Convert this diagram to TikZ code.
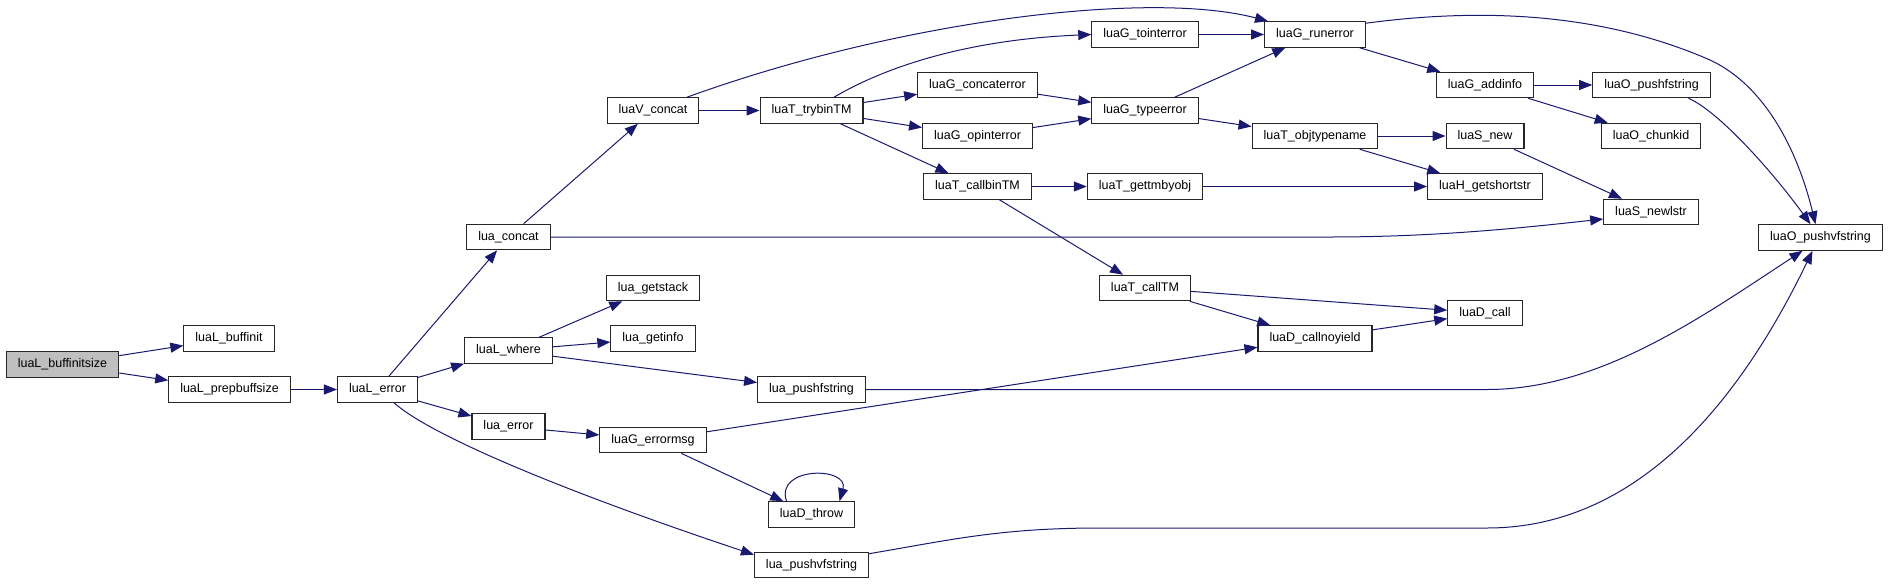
\documentclass[tikz,border=0pt]{standalone}
\usepackage{fontspec}
\setmainfont{Liberation Sans}
\usetikzlibrary{arrows.meta}
\definecolor{edgeblue}{HTML}{191970}
\definecolor{hilite}{HTML}{BFBFBF}

\begin{document}
\begin{tikzpicture}[x=1pt, y=-1pt,
  fnbox/.style={draw=black!85, line width=1.1pt, fill=white, rectangle,
    inner xsep=11.5pt, inner ysep=0pt, minimum height=25.5pt,
    text height=9.3pt, text depth=2.6pt, font=\fontsize{12.5}{14}\selectfont},
  call/.style={draw=edgeblue, line width=1pt, -{Triangle[length=13pt,width=10pt]}}]
  \useasboundingbox (0,0) rectangle (1888,584);

  % functions, placed at the pixel positions of the call graph
  \node[fnbox, fill=hilite] (BuffInitSize) at (62.5,364.5) {luaL\_buffinitsize};
  \node[fnbox] (BuffInit) at (229,338.5) {luaL\_buffinit};
  \node[fnbox] (PrepBuffSize) at (229.5,389.5) {luaL\_prepbuffsize};
  \node[fnbox] (LError) at (377.5,389.5) {luaL\_error};
  \node[fnbox] (LuaConcat) at (508.5,237) {lua\_concat};
  \node[fnbox] (LWhere) at (508.5,350.5) {luaL\_where};
  \node[fnbox] (LuaError) at (508.5,426.5) {lua\_error};
  \node[fnbox] (VConcat) at (653,110.5) {luaV\_concat};
  \node[fnbox] (GetStack) at (653,288) {lua\_getstack};
  \node[fnbox] (GetInfo) at (653,338.5) {lua\_getinfo};
  \node[fnbox] (ErrorMsg) at (653,440) {luaG\_errormsg};
  \node[fnbox] (TryBinTM) at (811.5,110.5) {luaT\_trybinTM};
  \node[fnbox] (PushFString) at (811.5,389.5) {lua\_pushfstring};
  \node[fnbox] (Throw) at (811.5,514.5) {luaD\_throw};
  \node[fnbox] (PushVFString) at (811.5,565) {lua\_pushvfstring};
  \node[fnbox] (ConcatError) at (977.5,85) {luaG\_concaterror};
  \node[fnbox] (OpIntError) at (977.5,136) {luaG\_opinterror};
  \node[fnbox] (CallBinTM) at (977.5,186.5) {luaT\_callbinTM};
  \node[fnbox] (ToIntError) at (1145,34.5) {luaG\_tointerror};
  \node[fnbox] (TypeError) at (1145,110.5) {luaG\_typeerror};
  \node[fnbox] (GetTMByObj) at (1145,186.5) {luaT\_gettmbyobj};
  \node[fnbox] (CallTM) at (1145,288) {luaT\_callTM};
  \node[fnbox] (RunError) at (1315,34.5) {luaG\_runerror};
  \node[fnbox] (ObjTypeName) at (1315,136) {luaT\_objtypename};
  \node[fnbox] (CallNoYield) at (1315,338.5) {luaD\_callnoyield};
  \node[fnbox] (AddInfo) at (1485,85) {luaG\_addinfo};
  \node[fnbox] (SNew) at (1485,136) {luaS\_new};
  \node[fnbox] (GetShortStr) at (1485,186.5) {luaH\_getshortstr};
  \node[fnbox] (DCall) at (1485,313) {luaD\_call};
  \node[fnbox] (OPushFString) at (1651.5,85) {luaO\_pushfstring};
  \node[fnbox] (ChunkId) at (1651,136) {luaO\_chunkid};
  \node[fnbox] (NewLStr) at (1651,212) {luaS\_newlstr};
  \node[fnbox] (OPushVFString) at (1820.5,237.5) {luaO\_pushvfstring};

  % straight calls
  \draw[call] (BuffInitSize) -- (BuffInit);
  \draw[call] (BuffInitSize) -- (PrepBuffSize);
  \draw[call] (PrepBuffSize) -- (LError);
  \draw[call] (LError) -- (LuaConcat);
  \draw[call] (LError) -- (LWhere);
  \draw[call] (LError) -- (LuaError);
  \draw[call] (LuaConcat) -- (VConcat);
  \draw[call] (VConcat) -- (TryBinTM);
  \draw[call] (TryBinTM) -- (ConcatError);
  \draw[call] (TryBinTM) -- (OpIntError);
  \draw[call] (TryBinTM) -- (CallBinTM);
  \draw[call] (ToIntError) -- (RunError);
  \draw[call] (ConcatError) -- (TypeError);
  \draw[call] (OpIntError) -- (TypeError);
  \draw[call] (TypeError) -- (RunError);
  \draw[call] (TypeError) -- (ObjTypeName);
  \draw[call] (RunError) -- (AddInfo);
  \draw[call] (AddInfo) -- (OPushFString);
  \draw[call] (AddInfo) -- (ChunkId);
  \draw[call] (ObjTypeName) -- (SNew);
  \draw[call] (ObjTypeName) -- (GetShortStr);
  \draw[call] (SNew) -- (NewLStr);
  \draw[call] (CallBinTM) -- (GetTMByObj);
  \draw[call] (CallBinTM) -- (CallTM);
  \draw[call] (GetTMByObj) -- (GetShortStr);
  \draw[call] (CallTM) -- (DCall);
  \draw[call] (CallTM) -- (CallNoYield);
  \draw[call] (CallNoYield) -- (DCall);
  \draw[call] (LWhere) -- (GetStack);
  \draw[call] (LWhere) -- (GetInfo);
  \draw[call] (LWhere) -- (PushFString);
  \draw[call] (LuaError) -- (ErrorMsg);
  \draw[call] (ErrorMsg) -- (CallNoYield);
  \draw[call] (ErrorMsg) -- (Throw);

  % curved calls
  \draw[call] ([xshift=16.5pt]LError.south) .. controls (430,435) and (560,490) .. ([yshift=-3pt]PushVFString.north west);
  \draw[call] (LuaConcat.east) -- (1330,237) .. controls (1440,237) and (1530,227) .. ([yshift=-7pt]NewLStr.west);
  \draw[call] ([xshift=34pt]VConcat.north) .. controls (900,20) and (1150,-10) .. ([xshift=4pt]RunError.north west);
  \draw[call] ([xshift=22.5pt]TryBinTM.north) .. controls (880,70) and (960,40) .. (ToIntError.west);
  \draw[call] ([yshift=-2pt]RunError.north east) .. controls (1480,8) and (1600,12) .. (1710,60)
    .. controls (1770,88) and (1800,160) .. ([xshift=-5pt]OPushVFString.north);
  \draw[call] ([xshift=37pt]OPushFString.south) .. controls (1720,112) and (1775,175) .. ([xshift=-10pt]OPushVFString.north);
  \draw[call] (PushFString) -- (1487,389.5) .. controls (1600,389.5) and (1700,318) .. ([xshift=-18pt]OPushVFString.south);
  \draw[call] ([yshift=-2pt]PushVFString.north east) .. controls (950,540) and (1000,528) .. (1100,528) -- (1487,528)
    .. controls (1650,528) and (1750,380) .. ([xshift=-8pt]OPushVFString.south);

  % recursive call
  \draw[call] ([xshift=-25pt]Throw.north) .. controls +(-12,-35) and +(10,-35) .. ([xshift=28pt]Throw.north);
\end{tikzpicture}
\end{document}
